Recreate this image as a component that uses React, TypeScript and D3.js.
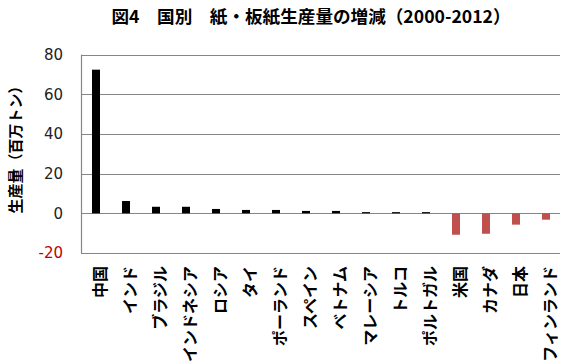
import React, { useRef, useEffect } from 'react';
import * as d3 from 'd3';

const WIDTH = 567;
const HEIGHT = 364;

const countries = [
  '中国', 'インド', 'ブラジル', 'インドネシア', 'ロシア', 'タイ', 'ポーランド', 'スペイン',
  'ベトナム', 'マレーシア', 'トルコ', 'ポルトガル', '米国', 'カナダ', '日本', 'フィンランド',
];
const changes = [72.4, 6.2, 3.3, 3.3, 2.2, 1.7, 1.7, 1.2, 1.2, 0.6, 0.6, 0.6, -10.8, -10.3, -5.7, -3.2];
const yTicks = [-20, 0, 20, 40, 60, 80];

const JP = '"Noto Sans CJK JP", sans-serif';
const NUM = '"DejaVu Sans", Verdana, sans-serif';

const App: React.FC = () => {
  const svgRef = useRef<SVGSVGElement>(null);

  useEffect(() => {
    if (!svgRef.current) return;
    const svg = d3.select(svgRef.current);
    svg.selectAll('*').remove();

    const left = 81;
    const right = 561;
    const top = 54.6;
    const bottom = 253;

    const x = d3.scaleBand<string>().domain(countries).range([left, right]);
    const y = d3.scaleLinear().domain([-20, 80]).range([bottom, top]);
    const barW = 8;

    // gridlines
    svg.append('g')
      .selectAll('line')
      .data(yTicks)
      .join('line')
      .attr('x1', left)
      .attr('x2', right - 1)
      .attr('y1', (d) => Math.round(y(d)) + 0.5)
      .attr('y2', (d) => Math.round(y(d)) + 0.5)
      .attr('stroke', '#868686')
      .attr('stroke-width', 1.2);

    svg.append('line')
      .attr('x1', left + 0.5)
      .attr('x2', left + 0.5)
      .attr('y1', y(80))
      .attr('y2', y(-20))
      .attr('stroke', '#868686')
      .attr('stroke-width', 1.2);

    // y tick labels
    svg.append('g')
      .selectAll('text')
      .data(yTicks)
      .join('text')
      .attr('x', 63)
      .attr('y', (d) => y(d))
      .attr('dy', '0.36em')
      .attr('text-anchor', 'end')
      .attr('font-family', NUM)
      .attr('font-size', 15)
      .attr('fill', (d) => (d < 0 ? '#C00000' : '#222'))
      .text((d) => String(d));

    // bars
    svg.append('g')
      .selectAll('rect')
      .data(changes)
      .join('rect')
      .attr('x', (_, i) => (x(countries[i]) ?? 0) + x.bandwidth() / 2 - barW / 2)
      .attr('y', (d) => y(Math.max(0, d)))
      .attr('width', barW)
      .attr('height', (d) => Math.abs(y(d) - y(0)))
      .attr('fill', (d) => (d < 0 ? '#C0504D' : '#000'));

    // x labels
    svg.append('g')
      .selectAll('text')
      .data(countries)
      .join('text')
      .attr('transform', (d) => `translate(${(x(d) ?? 0) + x.bandwidth() / 2 + 4}, 266) rotate(-90)`)
      .attr('text-anchor', 'end')
      .attr('dy', '0.35em')
      .attr('font-family', JP)
      .attr('font-size', 16)
      .attr('font-weight', 'bold')
      .attr('fill', '#000')
      .text((d) => d);

    // y axis title
    svg.append('text')
      .attr('transform', 'translate(16, 146) rotate(-90)')
      .attr('text-anchor', 'middle')
      .attr('dy', '0.35em')
      .attr('font-family', JP)
      .attr('font-size', 15)
      .attr('font-weight', 'bold')
      .attr('fill', '#000')
      .text('生産量（百万トン）');

    // title
    svg.append('text')
      .attr('x', 311)
      .attr('y', 17)
      .attr('dy', '0.35em')
      .attr('text-anchor', 'middle')
      .attr('font-family', JP)
      .attr('font-size', 17.6)
      .attr('font-weight', 'bold')
      .attr('fill', '#000')
      .text('図4　国別　紙・板紙生産量の増減（2000-2012）');
  }, []);

  return (
    <svg
      ref={svgRef}
      width={WIDTH}
      height={HEIGHT}
      viewBox={`0 0 ${WIDTH} ${HEIGHT}`}
      style={{ position: 'absolute', left: 0, top: 0, background: '#fff' }}
    />
  );
};

export default App;
